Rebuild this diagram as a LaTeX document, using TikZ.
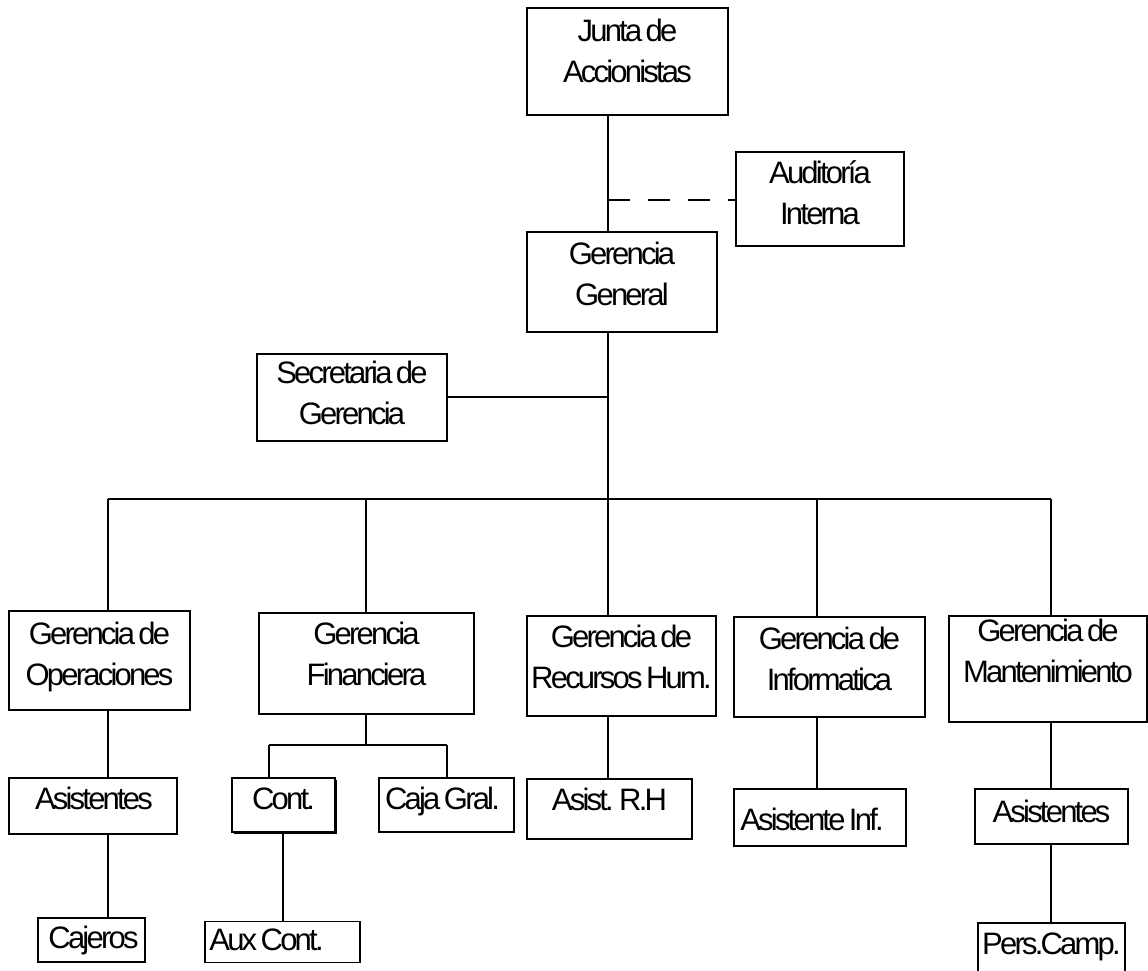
\documentclass[tikz,border=0pt]{standalone}
\usepackage{fontspec}
\newfontfamily\orgfont[LetterSpace=-9,WordSpace=0.6]{Liberation Sans}
\usetikzlibrary{shadows}
% #1 horizontal shift, #2 vertical lift, #3 text (lines split by \\)
\newcommand\txt[3]{\raisebox{#2}[\height][\depth]{\makebox[0pt]{\hspace*{#1}\begin{tabular}{@{}c@{}}#3\end{tabular}\hspace*{-#1}}}}
\begin{document}
\begin{tikzpicture}[x=1pt,y=-1pt,
  box/.style={draw=black,line width=1.3pt,inner sep=0pt,outer sep=0pt,
    align=center,font=\orgfont\fontsize{31}{41}\selectfont},
  link/.style={draw=black,line width=1.3pt},
  dlink/.style={draw=black,line width=1.3pt,dash pattern=on 22pt off 18pt}]
\useasboundingbox (0,0) rectangle (1148,971);
\clip (0,0) rectangle (1148,971);
% top level
\node[box,minimum width=201pt,minimum height=107pt] (junta) at (627.5,61.5) {\txt{0pt}{8pt}{Junta de\\Accionistas}};
\node[box,minimum width=168pt,minimum height=94pt] (audit) at (820,199) {\txt{0pt}{3pt}{Auditoría\\Interna}};
\node[box,minimum width=190pt,minimum height=100pt] (gg) at (622,282) {\txt{0pt}{5pt}{Gerencia\\General}};
\node[box,minimum width=190pt,minimum height=87pt] (sec) at (352,397.5) {\txt{0pt}{2pt}{Secretaria de\\Gerencia}};
% managers
\node[box,minimum width=181pt,minimum height=99pt] (op) at (99.5,660.5) {\txt{0pt}{4pt}{Gerencia de\\Operaciones}};
\node[box,minimum width=215pt,minimum height=101pt] (fin) at (366.5,663.5) {\txt{0pt}{7pt}{Gerencia\\Financiera}};
\node[box,minimum width=189pt,minimum height=100pt] (rh) at (621.5,666) {\txt{0pt}{6pt}{Gerencia de\\Recursos Hum.}};
\node[box,minimum width=191pt,minimum height=100pt] (inf) at (829.5,667) {\txt{0pt}{5pt}{Gerencia de\\Informatica}};
\node[box,minimum width=198pt,minimum height=106pt] (mant) at (1048,669) {\txt{0pt}{15pt}{Gerencia de\\Mantenimiento}};
% assistants
\node[box,minimum width=168pt,minimum height=56pt] (asop) at (93,806) {\txt{1pt}{5pt}{Asistentes}};
\node[box,fill=white,minimum width=103pt,minimum height=54pt,
  drop shadow={shadow xshift=2pt,shadow yshift=-2pt,fill=black,opacity=1}] (cont) at (283.5,805) {\txt{0pt}{4pt}{Cont.}};
\node[box,minimum width=135pt,minimum height=54pt] (caja) at (446.5,805) {\txt{-4pt}{4pt}{Caja Gral.}};
\node[box,minimum width=165pt,minimum height=60pt] (asrh) at (609.5,809) {\txt{0pt}{7pt}{Asist. R.H}};
\node[box,minimum width=172pt,minimum height=57pt] (asinf) at (820,817.5) {\txt{-8pt}{-5pt}{Asistente Inf.}};
\node[box,minimum width=153pt,minimum height=55pt] (asm) at (1051.5,816.5) {\txt{0pt}{2pt}{Asistentes}};
% bottom
\node[box,minimum width=107pt,minimum height=44pt] (caj) at (91.5,940) {\txt{2pt}{0pt}{Cajeros}};
\node[box,minimum width=155pt,minimum height=40pt] (aux) at (282.5,942) {\txt{-16pt}{0pt}{Aux Cont.}};
\node[box,minimum width=147pt,minimum height=67pt] (pers) at (1051.5,956.5) {\txt{0pt}{10pt}{Pers.Camp.}};
% helper coordinates
\coordinate (trunk) at (608,0);
\coordinate (bus) at (0,499);
\coordinate (dashy) at (0,200);
\coordinate (xop) at (108,0);
\coordinate (xfin) at (366,0);
\coordinate (xinf) at (817,0);
\coordinate (xmant) at (1051,0);
\coordinate (finbus) at (0,745);
\coordinate (xcont) at (269,0);
\coordinate (xcaja) at (447,0);
\coordinate (xaux) at (283,0);
\coordinate (secy) at (0,397);
% connectors
\draw[link] (junta.south -| trunk) -- (gg.north -| trunk);
\draw[dlink] (trunk |- dashy) -- (audit.west |- dashy);
\draw[link] (gg.south -| trunk) -- (trunk |- bus);
\draw[link] (sec.east |- secy) -- (trunk |- secy);
\draw[link] (xop |- bus) -- (xmant |- bus);
\draw[link] (xop |- bus) -- (op.north -| xop);
\draw[link] (xfin |- bus) -- (fin.north -| xfin);
\draw[link] (trunk |- bus) -- (rh.north -| trunk);
\draw[link] (xinf |- bus) -- (inf.north -| xinf);
\draw[link] (xmant |- bus) -- (mant.north -| xmant);
\draw[link] (op.south -| xop) -- (asop.north -| xop);
\draw[link] (asop.south -| xop) -- (caj.north -| xop);
\draw[link] (fin.south -| xfin) -- (xfin |- finbus);
\draw[link] (xcont |- finbus) -- (xcaja |- finbus);
\draw[link] (xcont |- finbus) -- (cont.north -| xcont);
\draw[link] (xcaja |- finbus) -- (caja.north -| xcaja);
\draw[link] (cont.south -| xaux) -- (aux.north -| xaux);
\draw[link] (rh.south -| trunk) -- (asrh.north -| trunk);
\draw[link] (inf.south -| xinf) -- (asinf.north -| xinf);
\draw[link] (mant.south -| xmant) -- (asm.north -| xmant);
\draw[link] (asm.south -| xmant) -- (pers.north -| xmant);
\end{tikzpicture}
\end{document}
